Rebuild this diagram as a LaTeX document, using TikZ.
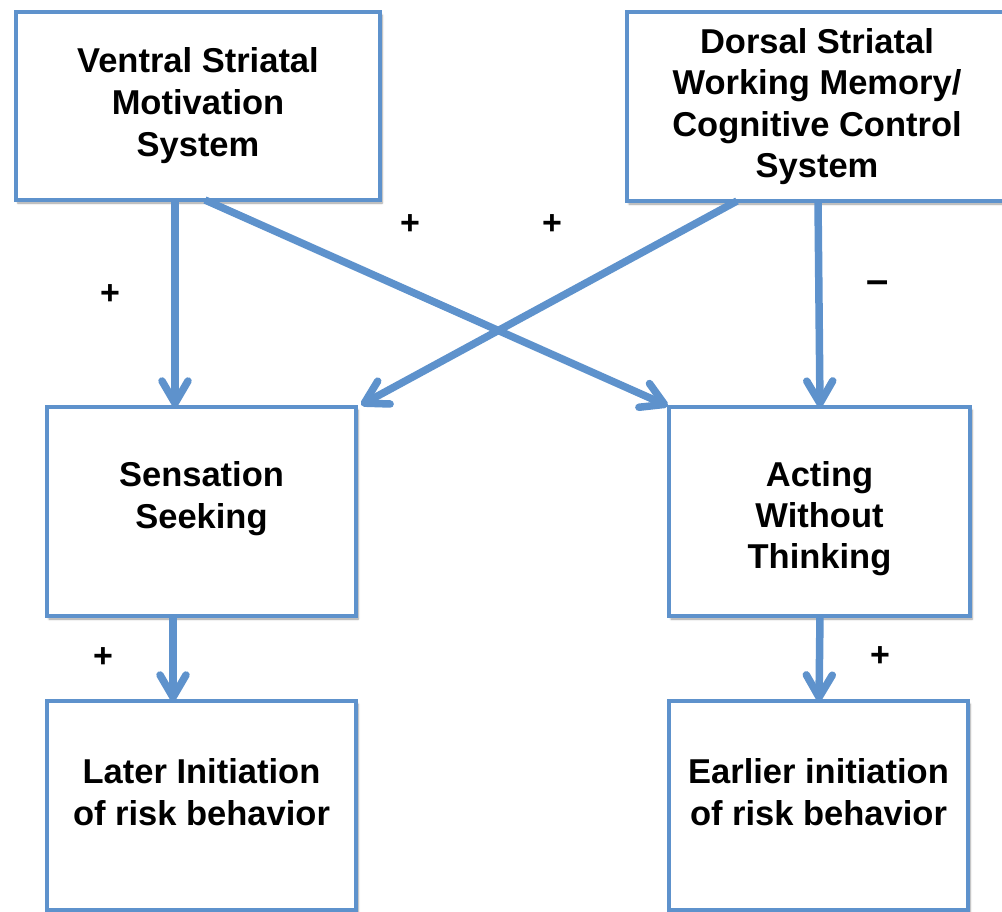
\documentclass[tikz,border=0pt]{standalone}
\usepackage{fontspec}
\setmainfont{Liberation Sans}
\usetikzlibrary{decorations.markings,shadows.blur,calc}
\definecolor{boxblue}{RGB}{94,146,204}
\begin{document}
\begin{tikzpicture}[x=1pt,y=-1pt,
  box/.style={draw=boxblue, line width=4pt, fill=white, rectangle, inner sep=0pt, outer sep=0pt,
    align=center, font=\fontsize{34.5}{42}\selectfont\bfseries,
    blur shadow={shadow xshift=2pt,shadow yshift=-3pt,shadow blur steps=6,shadow opacity=40}},
  chevron/.style={draw=boxblue, line width=7.5pt, line cap=round, line join=round, shorten >=0pt},
  link/.style={draw=boxblue, line width=7.5pt, line cap=butt, shorten >=5pt,
    postaction={decorate},
    decoration={markings, mark=at position 1 with
      {\draw[chevron] (-26pt,13pt) -- (-3.75pt,0pt) -- (-26pt,-13pt);}}},
  sign/.style={font=\fontsize{34}{42}\selectfont\bfseries, inner sep=0pt}]
\useasboundingbox (0,0) rectangle (1002,912);

\node[box, minimum width=364pt, minimum height=188pt] (V) at (198,106)
  {Ventral Striatal\\Motivation\\System};
\node[box, minimum width=380pt, minimum height=189pt, font=\fontsize{34.5}{41.3}\selectfont\bfseries] (D) at (817,106.5)
  {Dorsal Striatal\\Working Memory/\\Cognitive Control\\System};
\node[box, minimum width=309pt, minimum height=209pt] (S) at (201.5,511.5)
  {Sensation\\Seeking\\[-8pt]\mbox{}};
\node[box, minimum width=301pt, minimum height=209pt, font=\fontsize{34.5}{41}\selectfont\bfseries] (A) at (819.5,511.5)
  {\mbox{}\\[-2pt]Acting\\Without\\Thinking};
\node[box, minimum width=309pt, minimum height=209pt] (L) at (201.5,805.5)
  {Later Initiation\\of risk behavior\\[-15pt]\mbox{}};
\node[box, minimum width=299pt, minimum height=209pt] (E) at (818.5,805.5)
  {Earlier initiation\\of risk behavior\\[-15pt]\mbox{}};

\draw[link] ($(V.south west)+(159,0)$) -- ($(S.north west)+(128,0)$);
\draw[link] ($(D.south west)+(191,0)$) -- ($(A.north west)+(151,0)$);
\draw[link] ($(V.south west)+(189,0)$) -- ($(A.north west)+(-1,-1)$);
\draw[link] ($(D.south west)+(110,0)$) -- ($(S.north east)+(5,-2)$);
\draw[link] ($(S.south west)+(126,0)$) -- ($(L.north west)+(126,0)$);
\draw[link] ($(A.south west)+(151,0)$) -- ($(E.north west)+(150,0)$);

\node[sign] (p1) at (110,295) {+};
\node[sign] (p2) at (410,225) {+};
\node[sign] (p3) at (552,225) {+};
\node[sign, font=\fontsize{40}{42}\selectfont\bfseries] (m1) at (878,287) {–};
\node[sign] (p4) at (103,658) {+};
\node[sign] (p5) at (880,657) {+};
\end{tikzpicture}
\end{document}
